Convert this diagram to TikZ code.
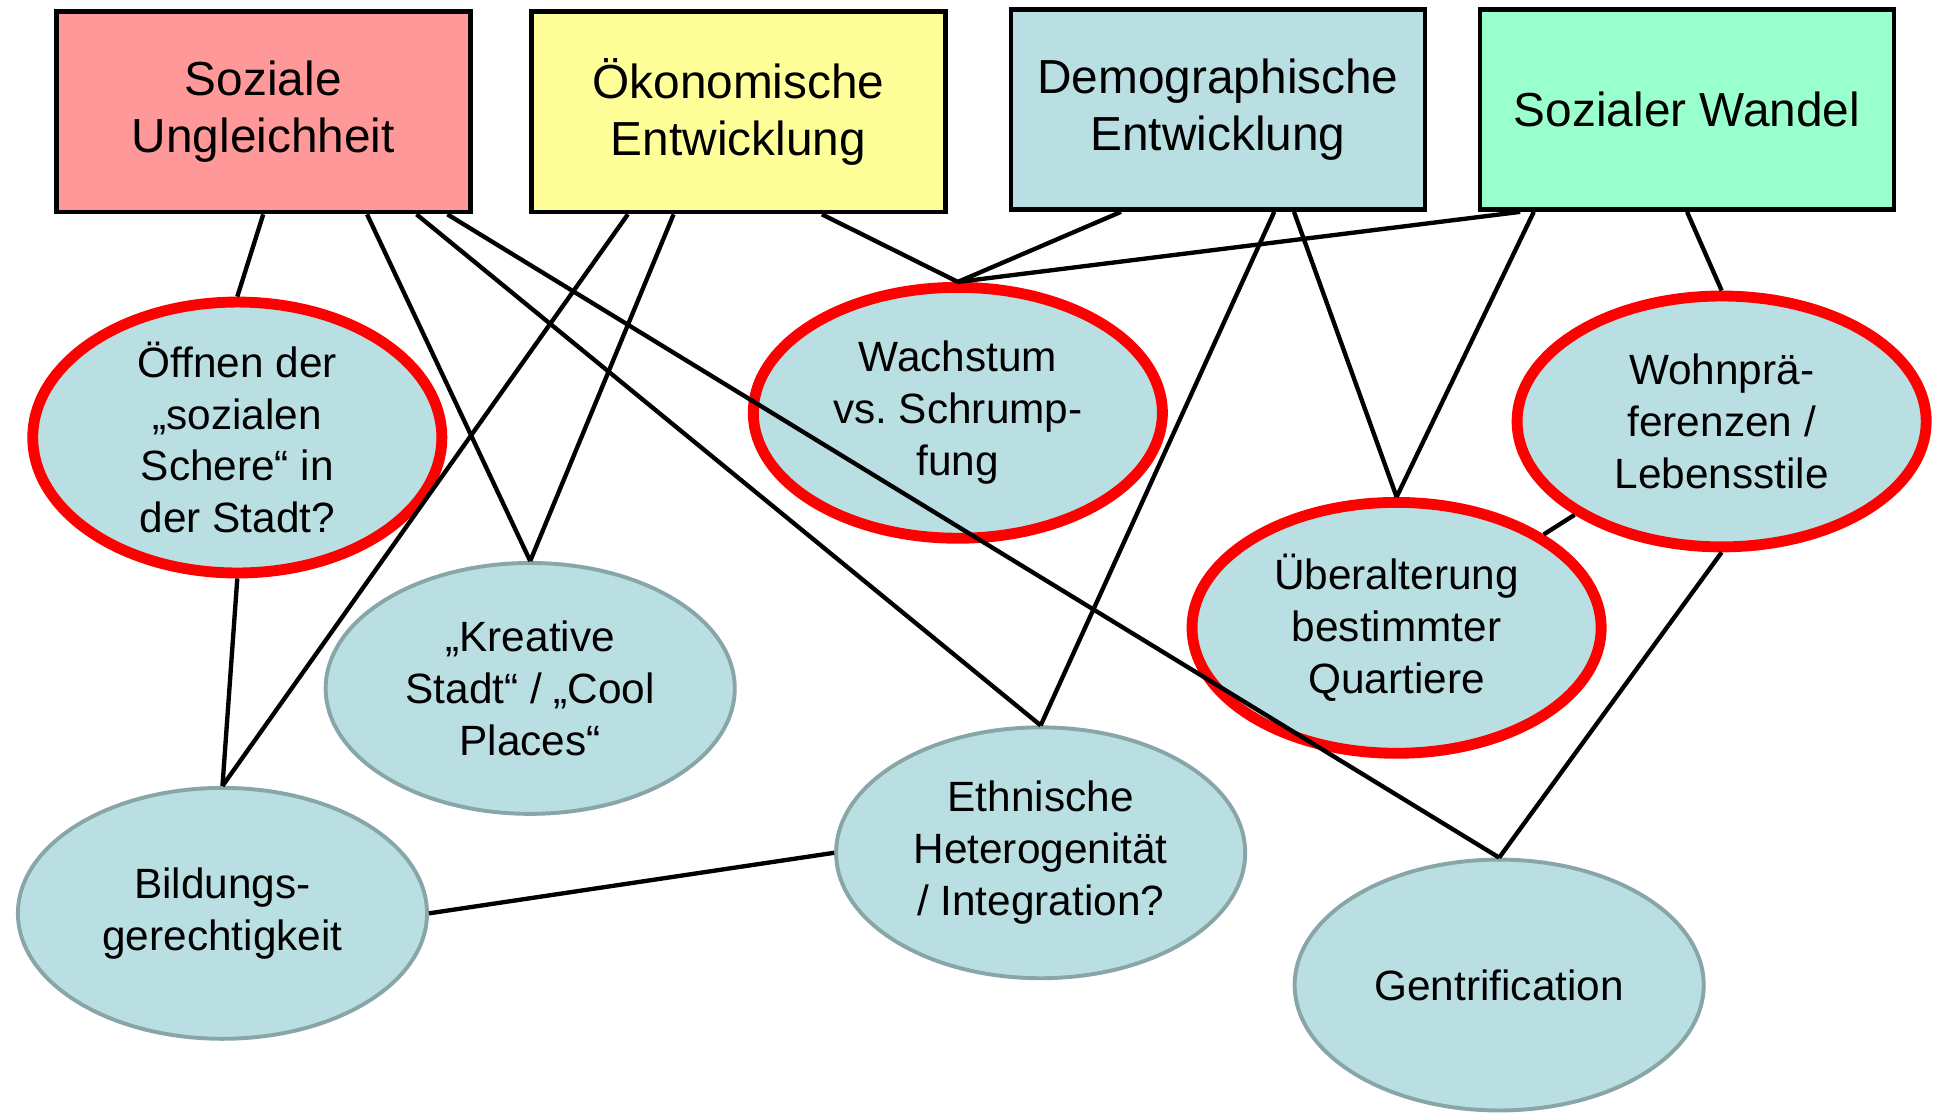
\documentclass[tikz,border=0pt]{standalone}
\usepackage{fontspec}
\setmainfont{Liberation Sans}
\usepackage{tikz}
\usetikzlibrary{calc,positioning,shapes,shapes.geometric}
\frenchspacing

\definecolor{rosa}{HTML}{FF9999}
\definecolor{gelb}{HTML}{FFFF99}
\definecolor{hellblau}{HTML}{BADFE2}
\definecolor{mint}{HTML}{99FFCC}
\definecolor{randgrau}{HTML}{88A5A8}

\begin{document}
\begin{tikzpicture}[
  box/.style={draw=black,line width=2.2pt,minimum width=6.7cm,minimum height=3.24cm,
    inner sep=0pt,align=center,font=\fontsize{22}{26.2}\selectfont},
  thema/.style={ellipse,fill=hellblau,draw=randgrau,line width=1.8pt,minimum width=6.62cm,
    minimum height=4.06cm,inner sep=0pt,align=center,font=\fontsize{19.5}{23.9}\selectfont},
  wichtig/.style={thema,draw=red,line width=5pt},
  verb/.style={line width=2pt}]
  \useasboundingbox (0,0) rectangle (31.28,-18.02);

  \node[box,fill=rosa] (soz) at (4.26,-1.81) {Soziale\\Ungleichheit};
  \node[box,fill=gelb] (oek) at (11.95,-1.81) {Ökonomische\\Entwicklung};
  \node[box,fill=hellblau] (demo) at (19.71,-1.77) {Demographische\\Entwicklung};
  \node[box,fill=mint] (wand) at (27.30,-1.77) {Sozialer Wandel};

  \node[wichtig] (oeff) at (3.84,-7.08) {Öffnen der\\„sozialen\\Schere“ in\\der Stadt?};
  \node[wichtig] (wach) at (15.50,-6.68) {Wachstum\\vs. Schrump-\\fung};
  \node[wichtig] (wohn) at (27.86,-6.82) {Wohnprä-\\ferenzen /\\Lebensstile};
  \node[wichtig] (uebe) at (22.60,-10.16) {Überalterung\\bestimmter\\Quartiere};
  \node[thema] (krea) at (8.58,-11.14) {„Kreative\\Stadt“ / „Cool\\Places“};
  \node[thema] (bild) at (3.60,-14.78) {Bildungs-\\gerechtigkeit};
  \node[thema] (ethn) at (16.84,-13.80) {Ethnische\\Heterogenität\\/ Integration?};
  \node[thema] (gent) at (24.26,-15.94) {Gentrification};

  \draw[verb] (soz.south) -- (oeff.north);
  \draw[verb] ([xshift=1.68cm]soz.south) -- (krea.north);
  \draw[verb] ([xshift=2.48cm]soz.south) -- (ethn.north);
  \draw[verb] ([xshift=2.98cm]soz.south) -- (gent.north);
  \draw[verb] ([xshift=-1.05cm]oek.south) -- (krea.north);
  \draw[verb] ([xshift=-1.79cm]oek.south) -- (bild.north);
  \draw[verb] ([xshift=1.35cm]oek.south) -- (wach.north);
  \draw[verb] ([xshift=-1.57cm]demo.south) -- (wach.north);
  \draw[verb] ([xshift=0.91cm]demo.south) -- (ethn.north);
  \draw[verb] ([xshift=1.23cm]demo.south) -- (uebe.north);
  \draw[verb] ([xshift=-2.7cm]wand.south) -- (wach.north);
  \draw[verb] ([xshift=-2.48cm]wand.south) -- (uebe.north);
  \draw[verb] (wand.south) -- (wohn.north);
  \draw[verb] (wohn) -- (uebe);
  \draw[verb] (wohn.south) -- (gent.north);
  \draw[verb] (oeff.south) -- (bild.north);
  \draw[verb] (bild.east) -- (ethn.west);
\end{tikzpicture}
\end{document}
